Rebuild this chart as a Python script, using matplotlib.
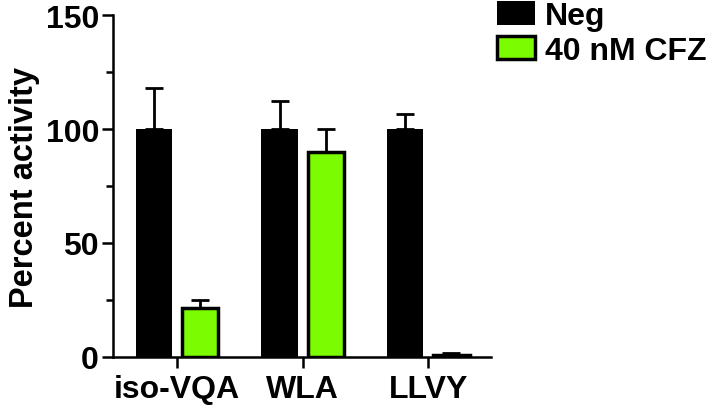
import matplotlib.pyplot as plt
from matplotlib.ticker import MultipleLocator
import numpy as np

plt.rcParams['font.family'] = ['Liberation Sans', 'DejaVu Sans']
plt.rcParams['font.weight'] = 'bold'

categories = ['iso-VQA', 'WLA', 'LLVY']
neg_vals = [100, 100, 100]
neg_err = [18, 12.5, 6.5]
cfz_vals = [21.5, 90, 1]
cfz_err = [3.5, 10, 0.7]
series_names = ['Neg', '40 nM CFZ']

green = '#7CFC00'

fig = plt.figure(figsize=(7.23, 4.06), dpi=100)
ax = fig.add_axes([113/723, 48/406, 378/723, 342/406])

x = np.arange(len(categories))
w = 0.29
off = 0.184

ax.bar(x - off, neg_vals, w, color='black', edgecolor='black', lw=0, label=series_names[0], zorder=2)
ax.errorbar(x - off, neg_vals, yerr=[np.zeros(3), neg_err], fmt='none', ecolor='black',
            elinewidth=2, capsize=6.5, capthick=2, zorder=1)
ax.bar(x + off, cfz_vals, w, color=green, edgecolor='black', lw=2.5, label=series_names[1], zorder=2)
ax.errorbar(x + off, cfz_vals, yerr=[np.zeros(3), cfz_err], fmt='none', ecolor='black',
            elinewidth=2, capsize=6.5, capthick=2, zorder=1)

ax.set_ylim(0, 150)
ax.set_xlim(-0.51, 2.5)
ax.yaxis.set_major_locator(MultipleLocator(50))
ax.yaxis.set_minor_locator(MultipleLocator(25))
ax.set_xticks(x)
ax.set_xticklabels(categories)

for s in ['top', 'right']:
    ax.spines[s].set_visible(False)
for s in ['left', 'bottom']:
    ax.spines[s].set_linewidth(1.8)

ax.tick_params(axis='y', which='major', length=8, width=1.8, labelsize=23, pad=2)
ax.tick_params(axis='y', which='minor', length=5, width=1.8)
ax.tick_params(axis='x', which='major', length=8, width=1.8, labelsize=23, pad=4)
for lbl in ax.get_xticklabels() + ax.get_yticklabels():
    lbl.set_fontweight('bold')

ax.set_ylabel('Percent activity', fontsize=23.5, fontweight='bold', labelpad=4)

ax.legend(loc='upper left', bbox_to_anchor=(497/723, 1 - 2/406), bbox_transform=fig.transFigure,
          frameon=False, fontsize=23, handlelength=1.19, handleheight=0.75,
          handletextpad=0.3, labelspacing=0.15, borderpad=0, borderaxespad=0)

fig.savefig('out.png', dpi=100)
